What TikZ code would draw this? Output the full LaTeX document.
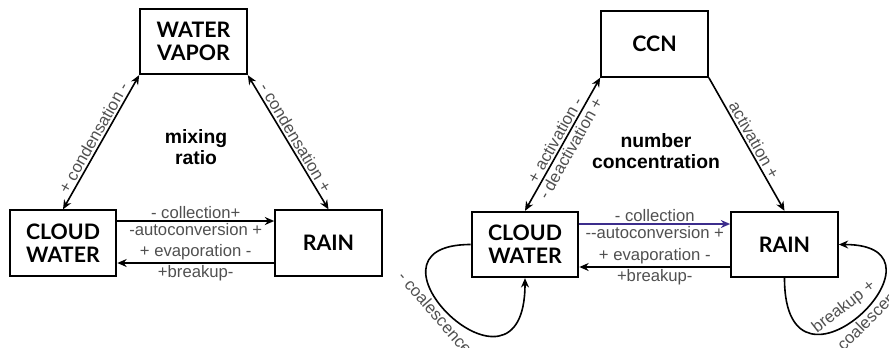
\documentclass[tikz,border=0pt]{standalone}
\usepackage{fontspec}
\setmainfont{Liberation Sans}
\newfontfamily\boxfont{Lato}
\usepackage{tikz}
\usetikzlibrary{arrows.meta,calc}
\usepackage{xcolor}
\definecolor{lblgray}{RGB}{80,80,80}
\definecolor{collblue}{RGB}{60,45,140}

\tikzset{
  box/.style={draw, line width=1.5pt, minimum width=80pt, minimum height=49pt, inner sep=0pt, align=center, font=\boxfont\bfseries\fontsize{16}{17.5}\selectfont},
  flux/.style={line width=1.2pt},
  dbl/.style={flux, {Stealth[open,length=7pt,width=6pt]}-{Stealth[open,length=7pt,width=6pt]}},
  fwd/.style={flux, -{Stealth[open,length=7pt,width=6pt]}},
  back/.style={flux, -{Stealth[length=7pt,width=6pt]}},
  lbl/.style={text=lblgray, font=\fontsize{12.5}{13.5}\selectfont, inner sep=1.5pt},
  ctext/.style={align=center, font=\bfseries\fontsize{14.5}{16}\selectfont}
}

\begin{document}
\begin{tikzpicture}[x=0.75pt,y=0.75pt]
\useasboundingbox (0,0) rectangle (889,-347);

\node [box] (wv) at (193.5,-41.5) {WATER\\VAPOR};
\node [box] (cw) at (63,-243) {CLOUD\\WATER};
\node [box] (rain) at (328.5,-243) {RAIN};
\node [ctext] (mr) at (196,-147) {mixing\\ratio};

\draw [dbl] (cw.north) -- node[lbl,sloped,above] {+ condensation -} (wv.south west);
\draw [dbl] (wv.south east) -- node[lbl,sloped,above] {- condensation +} (rain.north);
\draw [fwd] ($(cw.east)+(0,22)$) -- node[lbl,above] {- collection+} node[lbl,below] {-autoconversion +} ($(rain.west)+(0,22)$);
\draw [back] ($(rain.west)+(0,-20)$) -- node[lbl,above] {+ evaporation -} node[lbl,below] {+breakup-} ($(cw.east)+(0,-20)$);

\node [box] (ccn) at (654.5,-44) {CCN};
\node [box] (cw2) at (525,-244.5) {CLOUD\\WATER};
\node [box] (rain2) at (784.5,-244.5) {RAIN};
\node [ctext] (nc) at (656,-151) {number\\concentration};

\draw [dbl] (cw2.north) -- node[lbl,sloped,above] {+ activation -} node[lbl,sloped,below] {- deactivation +} (ccn.south west);
\draw [fwd] (ccn.south east) -- node[lbl,sloped,above] {activation +} (rain2.north);
\draw [fwd,collblue] ($(cw2.east)+(0,20.5)$) -- node[lbl,above] {- collection} node[lbl,below] {-{}-autoconversion +} ($(rain2.west)+(0,20.5)$);
\draw [back] ($(rain2.west)+(0,-22.5)$) -- node[lbl,above] {+ evaporation -} node[lbl,below] {+breakup-} ($(cw2.east)+(0,-22.5)$);

\draw [fwd] (cw2.west) to [out=180,in=-90,out distance=95pt,in distance=108pt] node[lbl,sloped,below,pos=0.45] {- coalescence} (cw2.south);
\draw [fwd] (rain2.south) to [out=-90,in=0,out distance=108pt,in distance=95pt] node[lbl,sloped,above=4pt,pos=0.47] {breakup +} node[lbl,sloped,below,pos=0.52] {- coalescence} (rain2.east);
\end{tikzpicture}
\end{document}
